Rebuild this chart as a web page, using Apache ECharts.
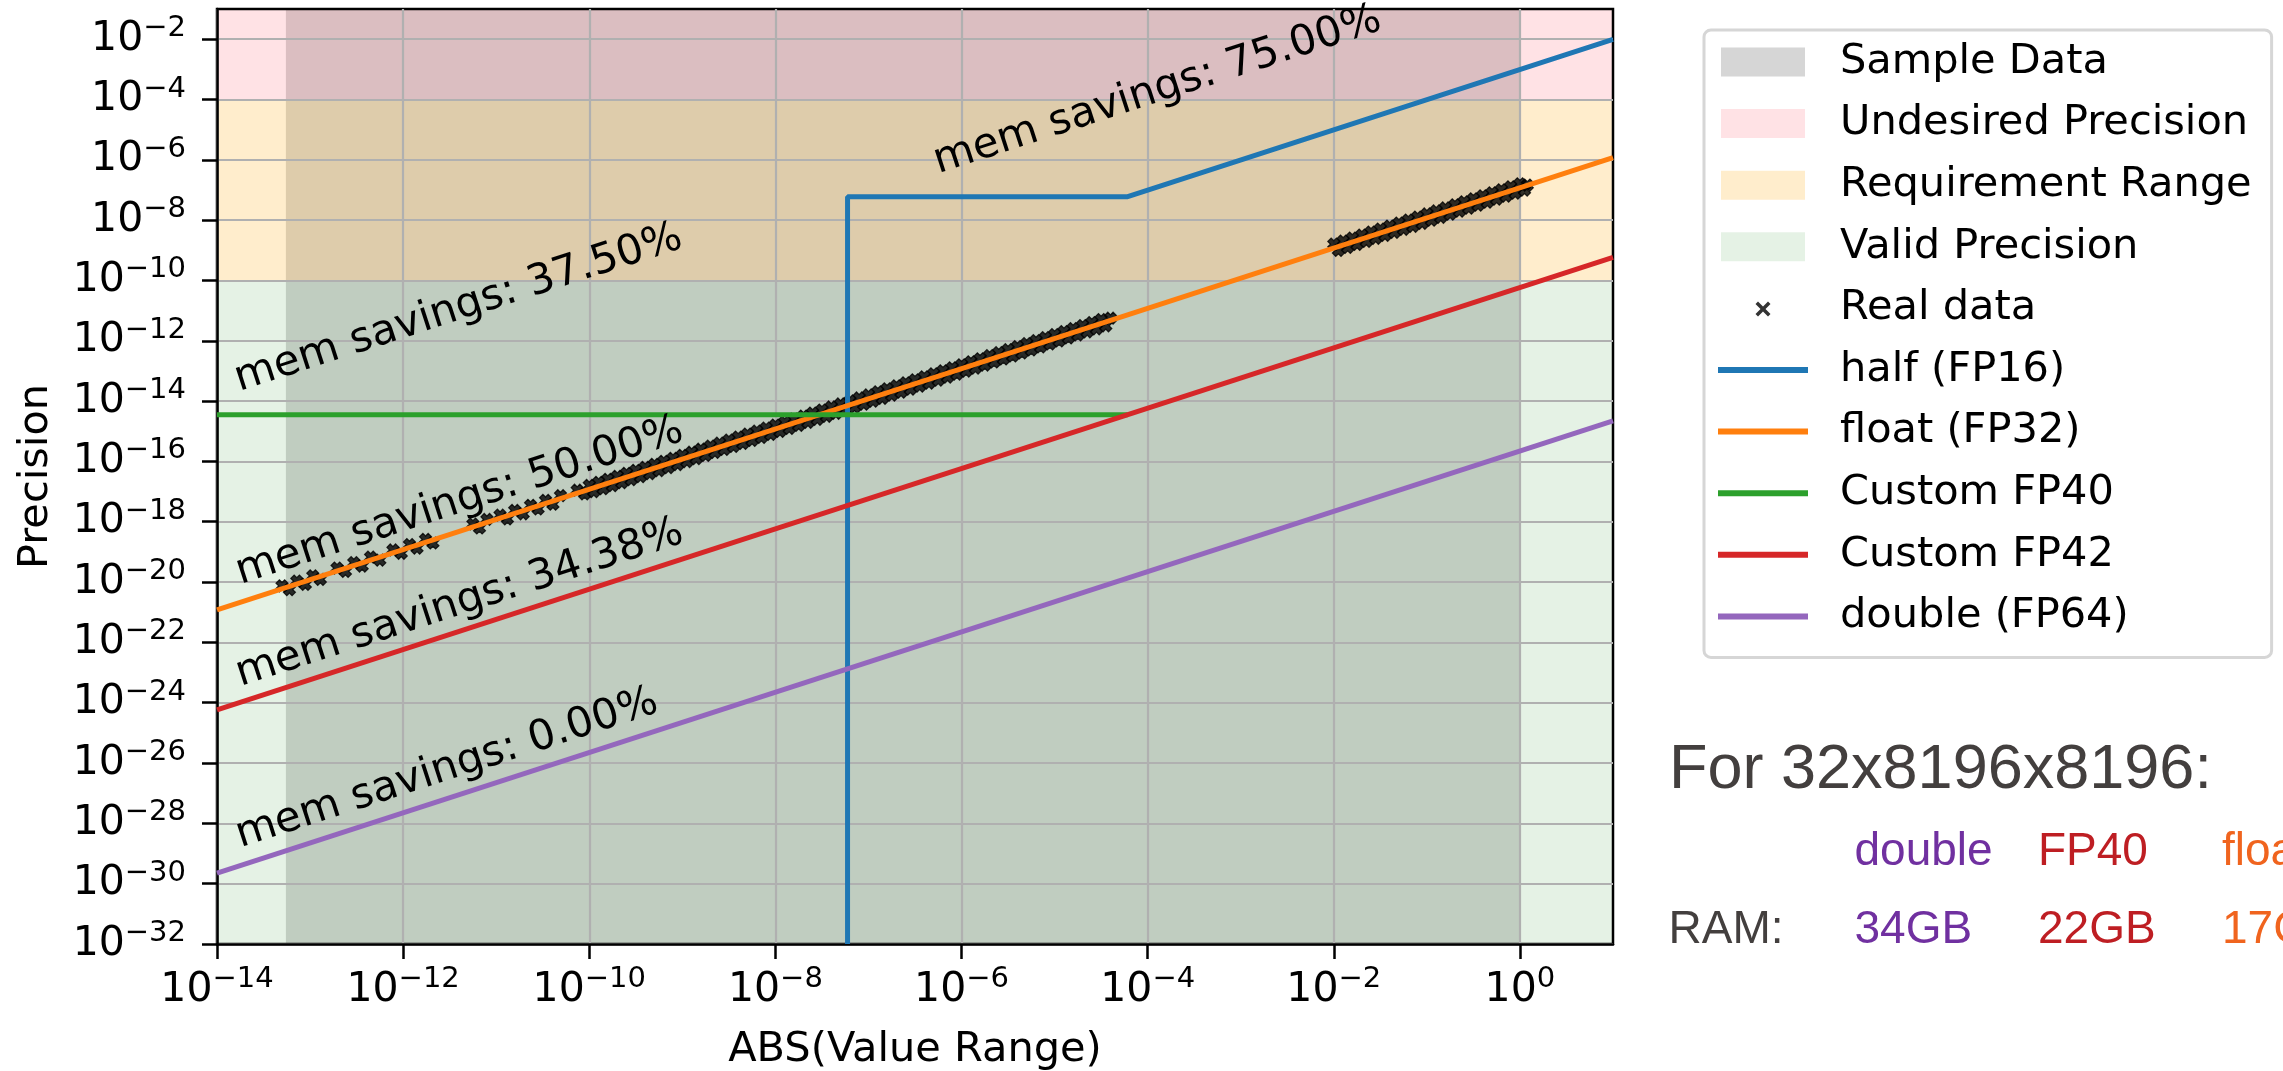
<!DOCTYPE html>
<html>
<head>
<meta charset="utf-8">
<title>Precision vs value range</title>
<script src="https://cdn.jsdelivr.net/npm/echarts@6.0.0/dist/echarts.min.js"></script>
<style>
html, body { margin: 0; padding: 0; background: #ffffff; }
#chart { width: 2283px; height: 1071px; }
</style>
</head>
<body>
<div id="chart"></div>
<script>
// ---------- axes ----------
const xRange = [1e-14, 10];
const yRange = [1e-32, 1e-1];
const xTickValues = [1e-14, 1e-12, 1e-10, 1e-8, 1e-6, 1e-4, 1e-2, 1];
const yTickValues = [1e-32, 1e-30, 1e-28, 1e-26, 1e-24, 1e-22, 1e-20, 1e-18, 1e-16,
                     1e-14, 1e-12, 1e-10, 1e-8, 1e-6, 1e-4, 1e-2];

// ---------- shaded regions ----------
const sampleDataSpan = [5.5e-14, 1];      // x extent covered by the sample data
const undesiredSpan = [1e-4, 1e-1];       // precision bands (y)
const requirementSpan = [1e-10, 1e-4];
const validSpan = [1e-32, 1e-10];

// ---------- precision of each format: [abs value, precision] ----------
const halfFP16 = [[5.96e-8, 1e-32], [5.96e-8, 5.96e-8], [6.10e-5, 5.96e-8], [10, 9.77e-3]];
const floatFP32 = [[1e-14, 1.19e-21], [10, 1.19e-6]];
const customFP40 = [[1e-14, 3.55e-15], [6.10e-5, 3.55e-15]];
const customFP42 = [[1e-14, 5.82e-25], [10, 5.82e-10]];
const doubleFP64 = [[1e-14, 2.22e-30], [10, 2.22e-15]];

// ---------- measured samples: [abs value, precision] ----------
const realSparse = [
  [5.0e-14, 7.5e-21], [6.0e-14, 5.6e-21], [7.2e-14, 1.08e-20], [8.9e-14, 8.4e-21], [1.07e-13, 1.6e-20], [1.29e-13, 1.22e-20],
  [1.95e-13, 2.9e-20], [2.4e-13, 2.25e-20], [2.95e-13, 4.4e-20], [3.63e-13, 3.4e-20], [4.47e-13, 6.7e-20], [5.62e-13, 5.3e-20],
  [7.76e-13, 1.16e-19], [9.55e-13, 9.0e-20], [1.17e-12, 1.75e-19], [1.41e-12, 1.33e-19], [1.74e-12, 2.6e-19], [2.09e-12, 1.97e-19],
  [5.62e-12, 8.4e-19], [6.61e-12, 6.2e-19], [7.94e-12, 1.19e-18],
  [1.10e-11, 1.65e-18], [1.32e-11, 1.24e-18], [1.58e-11, 2.37e-18], [1.95e-11, 1.83e-18], [2.34e-11, 3.5e-18],
  [2.82e-11, 2.65e-18], [3.39e-11, 5.1e-18], [4.07e-11, 3.8e-18], [4.90e-11, 7.3e-18],
  [7.41e-11, 1.11e-17], [8.91e-11, 8.4e-18]
];
const realLowBand = [
  [1.00e-10,1.60e-17],[1.12e-10,9.9e-18],[1.26e-10,2.02e-17],[1.41e-10,1.24e-17],[1.58e-10,2.54e-17],[1.78e-10,1.57e-17],[2.00e-10,3.21e-17],[2.24e-10,1.98e-17],[2.51e-10,4.03e-17],[2.82e-10,2.49e-17],
  [3.16e-10,5.07e-17],[3.55e-10,3.13e-17],[3.98e-10,6.39e-17],[4.47e-10,3.94e-17],[5.01e-10,8.04e-17],[5.62e-10,4.96e-17],[6.31e-10,1.01e-16],[7.08e-10,6.24e-17],[7.94e-10,1.27e-16],[8.91e-10,7.86e-17],
  [1.00e-9,1.60e-16],[1.12e-9,9.9e-17],[1.26e-9,2.02e-16],[1.41e-9,1.24e-16],[1.58e-9,2.54e-16],[1.78e-9,1.57e-16],[2.00e-9,3.21e-16],[2.24e-9,1.98e-16],[2.51e-9,4.03e-16],[2.82e-9,2.49e-16],
  [3.16e-9,5.07e-16],[3.55e-9,3.13e-16],[3.98e-9,6.39e-16],[4.47e-9,3.94e-16],[5.01e-9,8.04e-16],[5.62e-9,4.96e-16],[6.31e-9,1.01e-15],[7.08e-9,6.24e-16],[7.94e-9,1.27e-15],[8.91e-9,7.86e-16],
  [1.00e-8,1.60e-15],[1.12e-8,9.9e-16],[1.26e-8,2.02e-15],[1.41e-8,1.24e-15],[1.58e-8,2.54e-15],[1.78e-8,1.57e-15],[2.00e-8,3.21e-15],[2.24e-8,1.98e-15],[2.51e-8,4.03e-15],[2.82e-8,2.49e-15],
  [3.16e-8,5.07e-15],[3.55e-8,3.13e-15],[3.98e-8,6.39e-15],[4.47e-8,3.94e-15],[5.01e-8,8.04e-15],[5.62e-8,4.96e-15],[6.31e-8,1.01e-14],[7.08e-8,6.24e-15],[7.94e-8,1.27e-14],[8.91e-8,7.86e-15],
  [1.00e-7,1.60e-14],[1.12e-7,9.9e-15],[1.26e-7,2.02e-14],[1.41e-7,1.24e-14],[1.58e-7,2.54e-14],[1.78e-7,1.57e-14],[2.00e-7,3.21e-14],[2.24e-7,1.98e-14],[2.51e-7,4.03e-14],[2.82e-7,2.49e-14],
  [3.16e-7,5.07e-14],[3.55e-7,3.13e-14],[3.98e-7,6.39e-14],[4.47e-7,3.94e-14],[5.01e-7,8.04e-14],[5.62e-7,4.96e-14],[6.31e-7,1.01e-13],[7.08e-7,6.24e-14],[7.94e-7,1.27e-13],[8.91e-7,7.86e-14],
  [1.00e-6,1.60e-13],[1.12e-6,9.9e-14],[1.26e-6,2.02e-13],[1.41e-6,1.24e-13],[1.58e-6,2.54e-13],[1.78e-6,1.57e-13],[2.00e-6,3.21e-13],[2.24e-6,1.98e-13],[2.51e-6,4.03e-13],[2.82e-6,2.49e-13],
  [3.16e-6,5.07e-13],[3.55e-6,3.13e-13],[3.98e-6,6.39e-13],[4.47e-6,3.94e-13],[5.01e-6,8.04e-13],[5.62e-6,4.96e-13],[6.31e-6,1.01e-12],[7.08e-6,6.24e-13],[7.94e-6,1.27e-12],[8.91e-6,7.86e-13],
  [1.00e-5,1.60e-12],[1.12e-5,9.9e-13],[1.26e-5,2.02e-12],[1.41e-5,1.24e-12],[1.58e-5,2.54e-12],[1.78e-5,1.57e-12],[2.00e-5,3.21e-12],[2.24e-5,1.98e-12],[2.51e-5,4.03e-12],[2.82e-5,2.49e-12],
  [3.16e-5,5.07e-12],[3.55e-5,3.13e-12],[3.98e-5,5.6e-12]
];
const realHighBand = [
  [1.00e-2,1.60e-9],[1.12e-2,9.9e-10],[1.26e-2,2.02e-9],[1.41e-2,1.24e-9],[1.58e-2,2.54e-9],[1.78e-2,1.57e-9],[2.00e-2,3.21e-9],[2.24e-2,1.98e-9],[2.51e-2,4.03e-9],[2.82e-2,2.49e-9],
  [3.16e-2,5.07e-9],[3.55e-2,3.13e-9],[3.98e-2,6.39e-9],[4.47e-2,3.94e-9],[5.01e-2,8.04e-9],[5.62e-2,4.96e-9],[6.31e-2,1.01e-8],[7.08e-2,6.24e-9],[7.94e-2,1.27e-8],[8.91e-2,7.86e-9],
  [0.100,1.60e-8],[0.112,9.9e-9],[0.126,2.02e-8],[0.141,1.24e-8],[0.158,2.54e-8],[0.178,1.57e-8],[0.200,3.21e-8],[0.224,1.98e-8],[0.251,4.03e-8],[0.282,2.49e-8],
  [0.316,5.07e-8],[0.355,3.13e-8],[0.398,6.39e-8],[0.447,3.94e-8],[0.501,8.04e-8],[0.562,4.96e-8],[0.631,1.01e-7],[0.708,6.24e-8],[0.794,1.27e-7],[0.891,7.86e-8],
  [1.00,1.60e-7],[1.12,9.9e-8],[1.20,1.45e-7]
];

// ---------- memory savings notes: text + anchor (abs value, precision) ----------
const savingNotes = [
  { text: 'mem savings: 75.00%', x: 6.3e-7, y: 3.0e-7 },
  { text: 'mem savings: 37.50%', x: 1.95e-14, y: 1.8e-14 },
  { text: 'mem savings: 50.00%', x: 2.0e-14, y: 7.2e-21 },
  { text: 'mem savings: 34.38%', x: 2.0e-14, y: 3.0e-24 },
  { text: 'mem savings: 0.00%', x: 2.0e-14, y: 1.35e-29 }
];

// ---------- RAM table ----------
const ramTitle = 'For 32x8196x8196:';
const ramRowLabel = 'RAM:';
const ramFormats = ['double', 'FP40', 'float'];
const ramSizes = ['34GB', '22GB', '17GB'];

// ---------- names ----------
const regionNames = ['Sample Data', 'Undesired Precision', 'Requirement Range', 'Valid Precision'];
const realName = 'Real data';
const formatNames = ['half (FP16)', 'float (FP32)', 'Custom FP40', 'Custom FP42', 'double (FP64)'];

// ---------- styling ----------
const FONT = 'DejaVu Sans';
const regionColors = ['rgba(128,128,128,0.32)', 'rgba(255,20,40,0.12)', 'rgba(255,165,0,0.2)', 'rgba(0,128,0,0.1)'];
const formatColors = ['#1f77b4', '#ff7f0e', '#2ca02c', '#d62728', '#9467bd'];
// heavy "x" marker
const markerPath = 'path://M0,2.8 L2.8,0 L5,2.2 L7.2,0 L10,2.8 L7.8,5 L10,7.2 L7.2,10 L5,7.8 L2.8,10 L0,7.2 L2.2,5 Z';
const legendMarkerIcon = 'path://M0,0 M90,29 M37.5,10 L40,7.5 L45,12.5 L50,7.5 L52.5,10 L47.5,15 L52.5,20 L50,22.5 L45,17.5 L40,22.5 L37.5,20 L42.5,15 Z';
const legendLineIcon = 'path://M0,0 M90,29 M0,11.5 L90,11.5 L90,17.5 L0,17.5 Z';
const legendPatchIcon = 'path://M0,0 M90,29 M3,0 L87,0 L87,29 L3,29 Z';

function powerLabel(v) {
  const e = Math.round(Math.log10(v));
  return '{b|10}{s|' + (e < 0 ? '\u2212' : '') + Math.abs(e) + '}';
}
const powerRich = {
  b: { fontFamily: FONT, fontSize: 41, lineHeight: 50, color: '#000' },
  s: { fontFamily: FONT, fontSize: 29, lineHeight: 29, verticalAlign: 'top', color: '#000' }
};

function band(xa, xb, ya, yb) {
  return [{ xAxis: xa, yAxis: ya }, { xAxis: xb, yAxis: yb }];
}

const series = [];
// region shading
series.push({
  name: regionNames[0], type: 'line', data: [], silent: true,
  markArea: { silent: true, z: -3, itemStyle: { color: regionColors[0] },
    data: [band(sampleDataSpan[0], sampleDataSpan[1], yRange[0], yRange[1])] }
});
[[undesiredSpan, 1], [requirementSpan, 2], [validSpan, 3]].forEach(function (p) {
  series.push({
    name: regionNames[p[1]], type: 'line', data: [], silent: true,
    markArea: { silent: true, z: -2, itemStyle: { color: regionColors[p[1]] },
      data: [band(xRange[0], xRange[1], p[0][0], p[0][1])] }
  });
});
// measured samples
series.push({
  name: realName, type: 'scatter', z: 2, silent: true,
  symbol: markerPath, symbolSize: 12,
  itemStyle: { color: '#000', borderColor: '#000', borderWidth: 1.2 },
  data: realSparse.concat(realLowBand, realHighBand)
});
// format precision curves
[halfFP16, floatFP32, customFP40, customFP42, doubleFP64].forEach(function (d, i) {
  series.push({
    name: formatNames[i], type: 'line', z: 3, silent: true,
    symbol: 'none', showSymbol: false,
    color: formatColors[i],
    lineStyle: { width: 5, color: formatColors[i] },
    data: d
  });
});

const legendData = regionNames.map(function (n, i) {
  return { name: n, icon: legendPatchIcon, itemStyle: { color: regionColors[i] } };
}).concat([{ name: realName, icon: legendMarkerIcon }])
  .concat(formatNames.map(function (n) { return { name: n, icon: legendLineIcon }; }));

const option = {
  animation: false,
  backgroundColor: '#ffffff',
  textStyle: { fontFamily: FONT },
  grid: { left: 217, top: 9, width: 1396, height: 935, outerBoundsMode: 'none', containLabel: false,
          show: true, borderColor: '#000', borderWidth: 2.5, backgroundColor: 'transparent' },
  legend: {
    orient: 'vertical', left: 1704, top: 30,
    padding: [10, 20, 19, 14],
    itemWidth: 90, itemHeight: 29, itemGap: 17.6,
    selectedMode: false,
    borderColor: '#d6d6d6', borderWidth: 3, borderRadius: 7, backgroundColor: '#ffffff',
    itemStyle: { borderWidth: 0 },
    textStyle: { fontFamily: FONT, fontSize: 41.5, lineHeight: 44, color: '#000', padding: [0, 0, 0, 27] },
    data: legendData
  },
  xAxis: {
    type: 'log', logBase: 10, min: xRange[0], max: xRange[1],
    name: 'ABS(Value Range)', nameLocation: 'middle', nameGap: 85,
    nameTextStyle: { fontFamily: FONT, fontSize: 41.5, color: '#000' },
    axisLine: { show: true, lineStyle: { color: '#000', width: 2.5 } },
    axisTick: { show: true, inside: false, length: 15, lineStyle: { color: '#000', width: 2.5 }, customValues: xTickValues },
    axisLabel: { show: true, margin: 21, formatter: powerLabel, rich: powerRich, customValues: xTickValues },
    splitLine: { show: true, lineStyle: { color: '#b0b0b0', width: 2.2 } },
    minorTick: { show: false }, minorSplitLine: { show: false }
  },
  yAxis: {
    type: 'log', logBase: 10, min: yRange[0], max: yRange[1],
    name: 'Precision', nameLocation: 'middle', nameGap: 160, nameRotate: 90,
    nameTextStyle: { fontFamily: FONT, fontSize: 41.5, color: '#000' },
    axisLine: { show: true, lineStyle: { color: '#000', width: 2.5 } },
    axisTick: { show: true, inside: false, length: 15, lineStyle: { color: '#000', width: 2.5 }, customValues: yTickValues },
    axisLabel: { show: true, margin: 31, formatter: powerLabel, rich: powerRich, customValues: yTickValues },
    splitLine: { show: true, lineStyle: { color: '#b0b0b0', width: 2.2 } },
    minorTick: { show: false }, minorSplitLine: { show: false }
  },
  series: series
};

const chart = echarts.init(document.getElementById('chart'), null, { renderer: 'canvas', width: 2283, height: 1071 });
chart.setOption(option);

// rotated notes follow the slope of a one-to-one line on these log axes
const pa = chart.convertToPixel({ gridIndex: 0 }, [1e-10, 1e-20]);
const pb = chart.convertToPixel({ gridIndex: 0 }, [1e-9, 1e-19]);
const slopeAngle = Math.atan2(pa[1] - pb[1], pb[0] - pa[0]);

const graphics = savingNotes.map(function (n) {
  const p = chart.convertToPixel({ gridIndex: 0 }, [n.x, n.y]);
  return {
    type: 'text', x: p[0], y: p[1], rotation: slopeAngle, z: 100, silent: true,
    style: { text: n.text, x: -3.7, y: -14.5, font: '42px "DejaVu Sans"', fill: '#000',
             align: 'left', verticalAlign: 'middle', textAlign: 'left', textVerticalAlign: 'middle' }
  };
});

function tableText(str, x, y, size, color) {
  return {
    type: 'text', x: x, y: y, z: 100, silent: true,
    style: { text: str, font: size + 'px "Liberation Sans"', fill: color,
             align: 'left', verticalAlign: 'middle', textAlign: 'left', textVerticalAlign: 'middle' }
  };
}
const grey = '#433f3e';
const colColors = ['#7030a0', '#be1e23', '#f0641e'];
const colX = [1854.5, 2038, 2222];
graphics.push(tableText(ramTitle, 1669, 771, 63, grey));
graphics.push(tableText(ramRowLabel, 1668.5, 930.8, 46, grey));
ramFormats.forEach(function (f, i) {
  graphics.push(tableText(f, colX[i], 852.4, 46, colColors[i]));
  graphics.push(tableText(ramSizes[i], colX[i], 930.8, 46, colColors[i]));
});

chart.setOption({ graphic: { elements: graphics } });
</script>
</body>
</html>
